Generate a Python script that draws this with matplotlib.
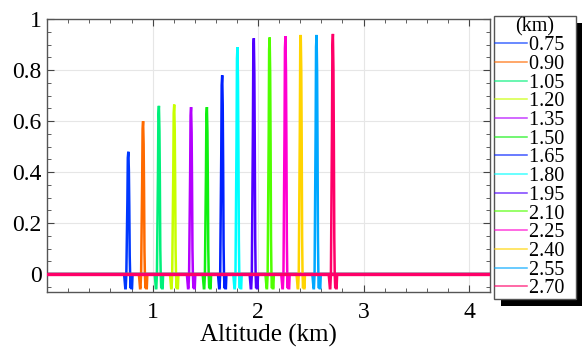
import matplotlib
matplotlib.use("Agg")
import matplotlib.pyplot as plt
from matplotlib.patches import Rectangle
from matplotlib.lines import Line2D
import numpy as np

# nominal altitude of each profile (legend) and where its spike sits on the plot
labels = ["0.75", "0.90", "1.05", "1.20", "1.35", "1.50", "1.65",
          "1.80", "1.95", "2.10", "2.25", "2.40", "2.55", "2.70"]
centers = [0.775, 0.915, 1.065, 1.21, 1.37, 1.52, 1.665,
           1.81, 1.965, 2.115, 2.265, 2.41, 2.56, 2.715]
heights = [0.48, 0.60, 0.66, 0.665, 0.655, 0.655, 0.78,
           0.89, 0.925, 0.928, 0.933, 0.938, 0.938, 0.942]
colors = ["#0038ff", "#ff6a00", "#00f07a", "#c8ff00", "#b400ff", "#10f010", "#0020ff",
          "#00ffff", "#5000ff", "#50ff00", "#ff00d0", "#ffd400", "#00a8ff", "#ff0068"]

# spike profile: offset (km) and fraction of spike height;
# None marks the undershoot that follows every spike
shape_dx = [-0.045, -0.034, -0.030, -0.024, -0.019, -0.014, -0.010, -0.005,
            0.000, 0.004, 0.008, 0.012, 0.017, 0.021, 0.026, 0.030, 0.035, 0.045]
shape_f = [0.0, None, None, 0.0, 0.3, 0.6, 0.95, 1.0,
           0.85, 0.55, 0.15, 0.0, None, 0.0, None, None, 0.0, 0.0]
dip = -0.055

fig = plt.figure(figsize=(5.82, 3.54), dpi=100)
ax = fig.add_axes([0.081, 0.175, 0.761, 0.771])

for lab, c0, h, col in zip(labels, centers, heights, colors):
    xs = [0.0] + [c0 + d for d in shape_dx] + [4.2]
    ys = [0.0] + [dip if f is None else f * h for f in shape_f] + [0.0]
    ax.plot(xs, ys, color=col, lw=1.8, solid_joinstyle="miter")
# last profile's flat part sits on top and reads a bit heavier
ax.axhline(0, color=colors[-1], lw=2.4, zorder=3)

ax.set_xlim(0, 4.2)
ax.set_ylim(-0.07, 1.0)
ax.set_xticks([1, 2, 3, 4])
ax.set_xticks(np.arange(0, 4.21, 0.2), minor=True)
ax.set_yticks([0, 0.2, 0.4, 0.6, 0.8, 1.0])
ax.set_yticklabels(["0", "0.2", "0.4", "0.6", "0.8", "1"])
ax.set_yticks(np.arange(-0.05, 1.001, 0.05), minor=True)
ax.grid(which="major", color="#e6e6e6", lw=0.8)
ax.set_axisbelow(True)
ax.tick_params(which="both", direction="in", top=True, right=True, color="#444444")
ax.tick_params(which="major", length=5, width=0.8, labelsize=17)
ax.tick_params(axis="x", which="major", pad=7)
ax.tick_params(axis="y", which="major", pad=4)
ax.tick_params(which="minor", length=3, width=0.6)
for s in ax.spines.values():
    s.set_color("#555555")
    s.set_linewidth(1.0)
for t in ax.get_xticklabels() + ax.get_yticklabels():
    t.set_fontfamily("Liberation Serif")
ax.set_xlabel("Altitude (km)", fontfamily="Liberation Serif", fontsize=18, labelpad=1)

handles = [Line2D([], [], color=c, lw=1.1, alpha=0.75) for c in colors]
shown = [lab + "  " for lab in labels]
leg = fig.legend(handles, shown, title="(km)", loc="upper left",
                 bbox_to_anchor=(0.849, 0.955), bbox_transform=fig.transFigure,
                 prop={"family": "Liberation Serif", "size": 14.5},
                 title_fontproperties={"family": "Liberation Serif", "size": 14.5},
                 labelspacing=-0.02, handlelength=1.6, handletextpad=0.1,
                 borderpad=0.05, borderaxespad=0, fancybox=False,
                 edgecolor="#555555", framealpha=1)
leg.get_frame().set_linewidth(1.0)
leg._legend_box.sep = 0

# black drop shadow behind the legend box
fig.canvas.draw()
bb = leg.get_window_extent()
W, H = fig.bbox.width, fig.bbox.height
shadow = Rectangle(((bb.x0 + 7) / W, (bb.y0 - 7) / H), bb.width / W, bb.height / H,
                   transform=fig.transFigure, facecolor="black", edgecolor="none",
                   zorder=leg.get_zorder() - 1)
fig.patches.append(shadow)

fig.savefig("out.png", dpi=100)
